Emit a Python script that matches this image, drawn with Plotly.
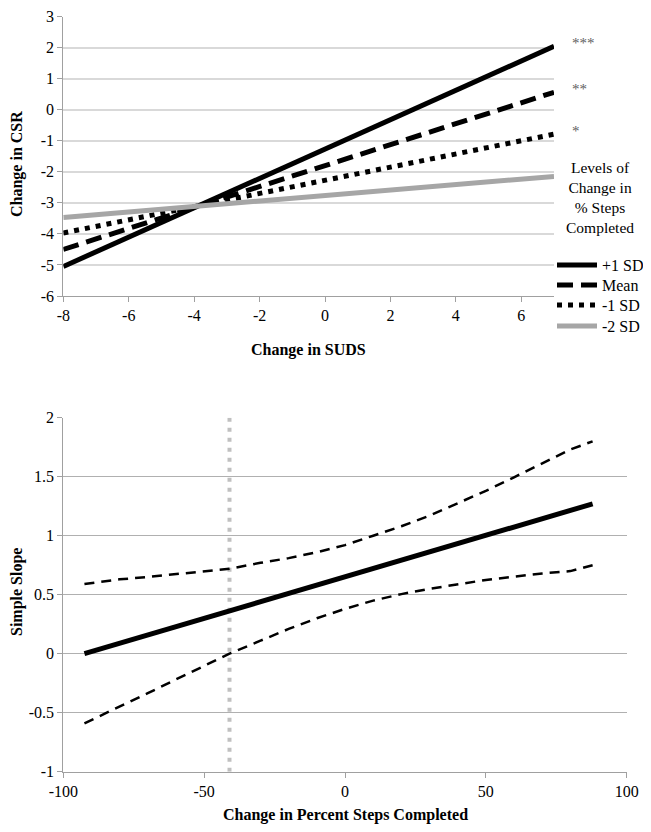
import plotly.graph_objects as go

FONT = "Liberation Serif"

# ---- Top chart data: Change in SUDS vs Change in CSR ----
suds_x = [-8, 7]
levels = ["+1 SD", "Mean", "-1 SD", "-2 SD"]
csr_plus1 = [-5.05, 2.04]
csr_mean = [-4.50, 0.56]
csr_minus1 = [-3.97, -0.79]
csr_minus2 = [-3.47, -2.15]
stars = ["***", "**", "*", ""]
suds_ticks = [-8, -6, -4, -2, 0, 2, 4, 6]
csr_ticks = [-6, -5, -4, -3, -2, -1, 0, 1, 2, 3]
legend_title = "Levels of<br>Change in<br>% Steps<br>Completed"

# ---- Bottom chart data: simple slope vs change in percent steps ----
steps_x = [-92.5, -80, -70, -60, -50, -41, -30, -20, -10, 0, 10, 20, 30, 40, 50, 60, 70, 80, 87.9]
slope = [0.0, 0.088, 0.158, 0.229, 0.299, 0.363, 0.44, 0.51, 0.581, 0.651, 0.722, 0.792, 0.863, 0.933, 1.003, 1.074, 1.144, 1.215, 1.27]
ci_upper = [0.59, 0.63, 0.65, 0.676, 0.70, 0.72, 0.77, 0.81, 0.86, 0.92, 1.0, 1.08, 1.17, 1.275, 1.38, 1.495, 1.61, 1.73, 1.80]
ci_lower = [-0.59, -0.45, -0.335, -0.218, -0.105, 0.0, 0.11, 0.21, 0.30, 0.38, 0.45, 0.505, 0.55, 0.59, 0.625, 0.653, 0.68, 0.70, 0.75]
region_x = -41
slope_range = [-1, 2]
steps_ticks = [-100, -50, 0, 50, 100]
slope_ticks = [-1, -0.5, 0, 0.5, 1, 1.5, 2]

W, H = 651, 832
OFF = 8  # page body margin offset


def px_x(p):
    return (p - OFF) / W


def px_y(p):
    return 1 - (p - OFF) / H


def labels(vals):
    return [("%g" % v) for v in vals]


fig = go.Figure()

top_series = [csr_plus1, csr_mean, csr_minus1, csr_minus2]
top_styles = [
    dict(color="black", width=5, dash="solid"),
    dict(color="black", width=5, dash="16px,8px"),
    dict(color="black", width=5, dash="5px,6px"),
    dict(color="#a6a6a6", width=5, dash="solid"),
]
legend_ids = ["legend", "legend2", "legend3", "legend4"]
legend_y_px = [265, 285, 305, 326]
for name, ys, st, lid in zip(levels, top_series, top_styles, legend_ids):
    fig.add_trace(go.Scatter(x=suds_x, y=ys, mode="lines", name=name, line=st,
                             xaxis="x", yaxis="y", showlegend=True, legend=lid))

# bottom chart
fig.add_trace(go.Scatter(x=[region_x, region_x], y=slope_range, mode="lines",
                         line=dict(color="#c0c0c0", width=4, dash="4px,6px"),
                         xaxis="x2", yaxis="y2", showlegend=False))
fig.add_trace(go.Scatter(x=steps_x, y=ci_upper, mode="lines",
                         line=dict(color="black", width=2.5, dash="10px,7px"),
                         xaxis="x2", yaxis="y2", showlegend=False))
fig.add_trace(go.Scatter(x=steps_x, y=ci_lower, mode="lines",
                         line=dict(color="black", width=2.5, dash="10px,7px"),
                         xaxis="x2", yaxis="y2", showlegend=False))
fig.add_trace(go.Scatter(x=steps_x, y=slope, mode="lines",
                         line=dict(color="black", width=5),
                         xaxis="x2", yaxis="y2", showlegend=False))

axis_common = dict(showline=True, linecolor="#a0a0a0", linewidth=1,
                   ticks="outside", ticklen=5, tickcolor="#a0a0a0",
                   tickfont=dict(family=FONT, size=16, color="black"),
                   zeroline=False, automargin=False, ticklabeloverflow="allow")

annotations = []
for ys, s in zip(top_series, stars):
    if s:
        annotations.append(dict(x=suds_x[-1], y=ys[-1], xref="x", yref="y", text=s,
                                showarrow=False, xanchor="left", yanchor="middle",
                                xshift=16, yshift=3,
                                font=dict(family=FONT, size=15, color="#606060")))

annotations += [
    dict(x=px_x(600), y=px_y(197), xref="paper", yref="paper",
         text=legend_title, showarrow=False,
         xanchor="center", yanchor="middle", align="center",
         font=dict(family=FONT, size=15.5, color="black")),
    dict(x=px_x(308.6), y=px_y(350), xref="paper", yref="paper", text="<b>Change in SUDS</b>",
         showarrow=False, xanchor="center", yanchor="middle",
         font=dict(family=FONT, size=16, color="black")),
    dict(x=px_x(17), y=px_y(164), xref="paper", yref="paper", text="<b>Change in CSR</b>",
         showarrow=False, textangle=-90, xanchor="center", yanchor="middle",
         font=dict(family=FONT, size=16, color="black")),
    dict(x=px_x(345), y=px_y(815), xref="paper", yref="paper",
         text="<b>Change in Percent Steps Completed</b>",
         showarrow=False, xanchor="center", yanchor="middle",
         font=dict(family=FONT, size=16, color="black")),
    dict(x=px_x(17), y=px_y(592), xref="paper", yref="paper", text="<b>Simple Slope</b>",
         showarrow=False, textangle=-90, xanchor="center", yanchor="middle",
         font=dict(family=FONT, size=16, color="black")),
]

legend_layout = {}
for lid, ly in zip(legend_ids, legend_y_px):
    legend_layout[lid] = dict(x=px_x(552), y=px_y(ly), xanchor="left", yanchor="middle",
                              font=dict(family=FONT, size=16, color="black"),
                              bgcolor="rgba(0,0,0,0)", itemwidth=40, borderwidth=0)

fig.update_layout(
    template="none",
    width=W, height=H,
    margin=dict(l=0, r=0, t=0, b=0, pad=0),
    paper_bgcolor="white", plot_bgcolor="white",
    font=dict(family=FONT, size=16, color="black"),
    xaxis=dict(domain=[px_x(63.3), px_x(554)], range=[-8, 7],
               tickvals=suds_ticks, ticktext=labels(suds_ticks),
               showgrid=False, anchor="y", **axis_common),
    yaxis=dict(domain=[px_y(296), px_y(16.5)], range=[-6, 3],
               tickvals=csr_ticks, ticktext=labels(csr_ticks),
               showgrid=True, gridcolor="#d9d9d9", gridwidth=1.5, anchor="x", **axis_common),
    xaxis2=dict(domain=[px_x(63.3), px_x(626.7)], range=[-100, 100],
                tickvals=steps_ticks, ticktext=labels(steps_ticks),
                showgrid=False, anchor="y2", **axis_common),
    yaxis2=dict(domain=[px_y(771.7), px_y(417.7)], range=[-1, 2],
                tickvals=slope_ticks, ticktext=labels(slope_ticks),
                showgrid=True, gridcolor="#b0b0b0", gridwidth=1, anchor="x2", **axis_common),
    showlegend=True,
    annotations=annotations,
    **legend_layout,
)

fig.write_html("out.html")
